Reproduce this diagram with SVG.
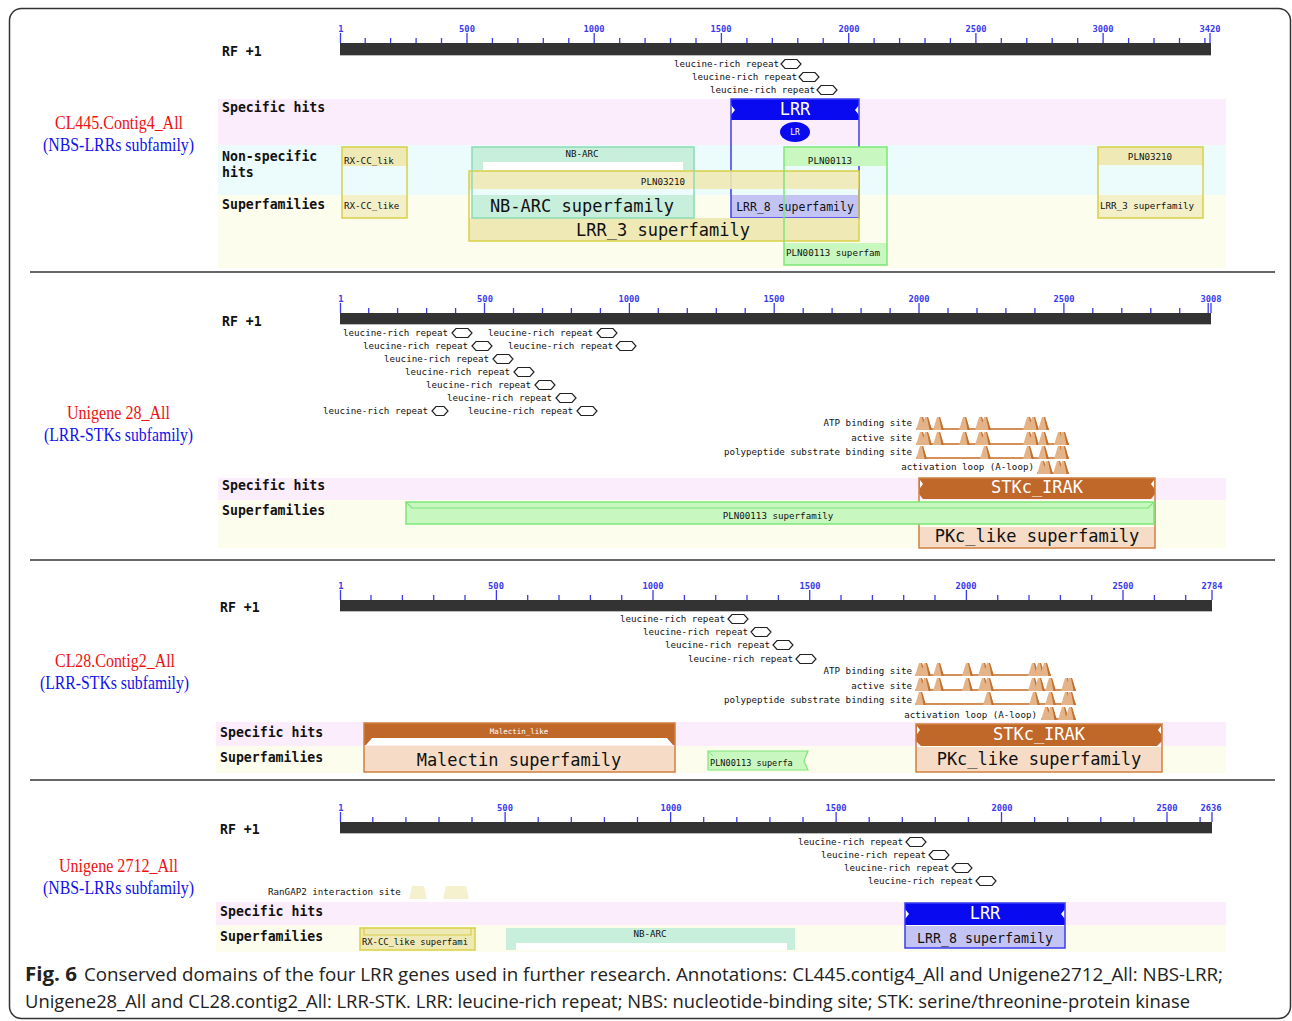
<svg xmlns="http://www.w3.org/2000/svg" width="1292" height="1021" viewBox="0 0 1292 1021">
<style>
.m{font-family:"DejaVu Sans Mono","Liberation Mono",monospace}
.sm{font-family:"DejaVu Sans Mono","Liberation Mono",monospace;font-size:9.2px;fill:#111}
.row{font-family:"DejaVu Sans Mono","Liberation Mono",monospace;font-weight:bold;font-size:13.2px;fill:#111}
.tk{stroke:#3a3af0;stroke-width:1.3;fill:none}
.tl{font-family:"DejaVu Sans Mono","Liberation Mono",monospace;font-size:8.8px;font-weight:bold;fill:#3a3af0;text-anchor:middle}
.bar{fill:#333}
.bl{stroke:#bbb;stroke-width:1}
.big{font-family:"DejaVu Sans Mono","Liberation Mono",monospace;font-size:17px;fill:#111;text-anchor:middle}
.c{text-anchor:middle}
.e{text-anchor:end}
.red{font-family:"Liberation Serif",serif;font-size:18px;fill:#ee1111}
.blu{font-family:"Liberation Serif",serif;font-size:18px;fill:#1111ee}
.pink{fill:#fbedfb}.cyan{fill:#ecfbfb}.yel{fill:#fdfdee}
.yb{fill:none;stroke:#d8d048;stroke-width:1.5}.yf{fill:#efe9b5}
.gb{fill:none;stroke:#8cdcb4;stroke-width:1.5}.gf{fill:#c8eedc}
.lb{fill:none;stroke:#7ee67a;stroke-width:1.5}.lf{fill:#c8f8c0}
.bb{fill:none;stroke:#3c3cf0;stroke-width:1.5}.bf{fill:#0a0af0}.bsf{fill:#c4c4f4}
.ob{fill:none;stroke:#d08040;stroke-width:1.5}.of{fill:#c0672a}.osf{fill:#f6dcc6}
.base{stroke:#d49058;stroke-width:2}
.cap{font-family:"Open Sans","Noto Sans",sans-serif;font-size:19px;fill:#222}
.sep{stroke:#333;stroke-width:1.5}
</style>
<defs>
<path id="hx" d="M0,0 L4,-4.5 H16 L20,0 L16,4.5 H4 Z" fill="#fff" stroke="#222" stroke-width="1.2"/>
<g id="pk"><path d="M0,0 L4,-13 L7,-13 L11,0 Z" fill="#e4b488"/><path d="M6,-13 L7,-13 L11,0 L8.5,0 Z" fill="#c2702e"/></g>
</defs>
<rect x="9.5" y="8.5" width="1281" height="1010" rx="12" fill="#fff" stroke="#333" stroke-width="1.5"/>
<line class="sep" x1="30" y1="272" x2="1275" y2="272"/>
<line class="sep" x1="30" y1="560" x2="1275" y2="560"/>
<line class="sep" x1="30" y1="780" x2="1275" y2="780"/>

<!-- ===== Panel 1 ===== -->
<g id="panel1">
<text class="red" x="55" y="129" textLength="128" lengthAdjust="spacingAndGlyphs">CL445.Contig4_All</text>
<text class="blu" x="43" y="151" textLength="151" lengthAdjust="spacingAndGlyphs">(NBS-LRRs subfamily)</text>
<rect class="pink" x="218" y="99" width="1008" height="46"/>
<rect class="cyan" x="218" y="145" width="1008" height="50"/>
<rect class="yel" x="218" y="195" width="1008" height="73"/>
<text class="row" x="222" y="56">RF +1</text>
<text class="row" x="222" y="112">Specific hits</text>
<text class="row" x="222" y="161">Non-specific</text>
<text class="row" x="222" y="177">hits</text>
<text class="row" x="222" y="209">Superfamilies</text>
<g id="ruler1">
<rect class="bar" x="340" y="43" width="871" height="12"/>
<line class="bl" x1="340" y1="55.5" x2="1211" y2="55.5"/>
<path class="tk" d="M365.2 38v5M390.6 38v5M416.1 38v5M441.5 38v5M492.4 38v5M517.9 38v5M543.3 38v5M568.8 38v5M619.7 38v5M645.1 38v5M670.5 38v5M696 38v5M746.9 38v5M772.3 38v5M797.8 38v5M823.2 38v5M874.1 38v5M899.6 38v5M925 38v5M950.4 38v5M1001.3 38v5M1026.8 38v5M1052.2 38v5M1077.7 38v5M1128.6 38v5M1154 38v5M1179.5 38v5M1204.9 38v5M340.5 33v10M467 33v10M594.2 33v10M721.4 33v10M848.7 33v10M975.9 33v10M1103.1 33v10M1210 33v10"/>
<text class="tl" x="341" y="32">1</text><text class="tl" x="467" y="32">500</text><text class="tl" x="594" y="32">1000</text><text class="tl" x="721" y="32">1500</text><text class="tl" x="849" y="32">2000</text><text class="tl" x="976" y="32">2500</text><text class="tl" x="1103" y="32">3000</text><text class="tl" x="1210" y="32">3420</text>
</g>
<g id="lrr-repeats1">
<text class="sm e" x="779" y="67">leucine-rich repeat</text><use href="#hx" x="781" y="64"/>
<text class="sm e" x="797" y="80">leucine-rich repeat</text><use href="#hx" x="799" y="77"/>
<text class="sm e" x="815" y="93">leucine-rich repeat</text><use href="#hx" x="817" y="90"/>
</g>
<g id="rxcc1">
<rect class="yf" x="342" y="147" width="65" height="19"/>
<rect fill="#f3efc8" x="342" y="195" width="65" height="23"/>
<rect class="yb" x="342" y="147" width="65" height="71"/>
<text class="sm" x="344" y="164">RX-CC_lik</text>
<text class="sm" x="344" y="209">RX-CC_like</text>
</g>
<g id="lrr1">
<rect class="bf" x="731" y="99" width="128" height="21"/>
<path d="M731,105 l4,5 l-4,5 Z M859,105 l-4,5 l4,5 Z" fill="#fff"/>
<rect class="bsf" x="731" y="195" width="128" height="23"/>
<rect class="bb" x="731" y="99" width="128" height="119"/>
<text class="c m" x="795" y="115" font-size="17" fill="#fff">LRR</text>
<ellipse cx="795" cy="132" rx="15" ry="10" fill="#0a0af0"/>
<text class="c m" x="795" y="135" font-size="8" fill="#fff">LR</text>
<text class="c m" x="795" y="211" font-size="11.5" fill="#111">LRR_8 superfamily</text>
</g>
<g id="pln03210a">
<rect class="yf" x="469" y="171" width="390" height="18" opacity="0.9"/>
<rect class="yf" x="469" y="218" width="390" height="23"/>
<rect class="yb" x="469" y="171" width="390" height="70"/>
<text class="sm c" x="663" y="185">PLN03210</text>
<text class="big" x="663" y="236">LRR_3 superfamily</text>
</g>
<g id="nbarc1">
<rect class="gf" x="472" y="147" width="222" height="23"/>
<rect fill="#fff" x="483" y="162" width="200" height="8"/>
<rect class="gf" x="472" y="195" width="222" height="23"/>
<rect class="gb" x="472" y="147" width="222" height="71"/>
<text class="sm c" x="582" y="157">NB-ARC</text>
<text class="big" x="582" y="212">NB-ARC superfamily</text>
</g>
<g id="pln00113a">
<rect class="lf" x="784" y="147" width="103" height="19"/>
<rect class="lf" x="784" y="243" width="103" height="22"/>
<rect class="lb" x="784" y="147" width="103" height="118"/>
<text class="sm c" x="830" y="164">PLN00113</text>
<text class="sm" x="786" y="256">PLN00113 superfam</text>
</g>
<g id="pln03210b">
<rect class="yf" x="1098" y="147" width="105" height="18"/>
<rect fill="#f3efc8" x="1098" y="195" width="105" height="23"/>
<rect class="yb" x="1098" y="147" width="105" height="71"/>
<text class="sm c" x="1150" y="160">PLN03210</text>
<text class="sm" x="1100" y="209">LRR_3 superfamily</text>
</g>
</g>

<!-- ===== Panel 2 ===== -->
<g id="panel2">
<text class="red" x="67" y="419" textLength="103" lengthAdjust="spacingAndGlyphs">Unigene 28_All</text>
<text class="blu" x="44" y="441" textLength="149" lengthAdjust="spacingAndGlyphs">(LRR-STKs subfamily)</text>
<rect class="pink" x="218" y="478" width="1008" height="22"/>
<rect class="yel" x="218" y="500" width="1008" height="48"/>
<text class="row" x="222" y="326">RF +1</text>
<text class="row" x="222" y="490">Specific hits</text>
<text class="row" x="222" y="515">Superfamilies</text>
<g id="ruler2">
<rect class="bar" x="340" y="313" width="871" height="11"/>
<line class="bl" x1="340" y1="324.5" x2="1211" y2="324.5"/>
<path class="tk" d="M368.7 308v5M397.6 308v5M426.6 308v5M455.6 308v5M513.5 308v5M542.5 308v5M571.4 308v5M600.4 308v5M658.3 308v5M687.3 308v5M716.3 308v5M745.2 308v5M803.2 308v5M832.1 308v5M861.1 308v5M890.1 308v5M948 308v5M977 308v5M1005.9 308v5M1034.9 308v5M1092.8 308v5M1121.8 308v5M1150.8 308v5M1179.7 308v5M1208.2 303v10M340.5 303v10M484.5 303v10M629.4 303v10M774.2 303v10M919 303v10M1063.9 303v10M1211 303v10"/>
<text class="tl" x="341" y="302">1</text><text class="tl" x="485" y="302">500</text><text class="tl" x="629" y="302">1000</text><text class="tl" x="774" y="302">1500</text><text class="tl" x="919" y="302">2000</text><text class="tl" x="1064" y="302">2500</text><text class="tl" x="1211" y="302">3008</text>
</g>
<g id="lrr-repeats2">
<text class="sm" x="343" y="336">leucine-rich repeat</text><use href="#hx" x="452" y="333"/>
<text class="sm" x="488" y="336">leucine-rich repeat</text><use href="#hx" x="597" y="333"/>
<text class="sm" x="363" y="349">leucine-rich repeat</text><use href="#hx" x="472" y="346"/>
<text class="sm" x="508" y="349">leucine-rich repeat</text><use href="#hx" x="616" y="346"/>
<text class="sm" x="384" y="362">leucine-rich repeat</text><use href="#hx" x="493" y="359"/>
<text class="sm" x="405" y="375">leucine-rich repeat</text><use href="#hx" x="514" y="372"/>
<text class="sm" x="426" y="388">leucine-rich repeat</text><use href="#hx" x="535" y="385"/>
<text class="sm" x="447" y="401">leucine-rich repeat</text><use href="#hx" x="556" y="398"/>
<text class="sm" x="323" y="414">leucine-rich repeat</text><path d="M0,0 L4,-4.5 H12 L16,0 L12,4.5 H4 Z" transform="translate(432,411)" fill="#fff" stroke="#222" stroke-width="1.2"/>
<text class="sm" x="468" y="414">leucine-rich repeat</text><use href="#hx" x="577" y="411"/>
</g>
<g id="sites2">
<text class="sm e" x="912" y="426">ATP binding site</text>
<line class="base" x1="916" y1="429" x2="1049" y2="429"/>
<use href="#pk" x="916" y="430"/><use href="#pk" x="921" y="430"/><use href="#pk" x="933" y="430"/><use href="#pk" x="959" y="430"/><use href="#pk" x="975" y="430"/><use href="#pk" x="980" y="430"/><use href="#pk" x="1023" y="430"/><use href="#pk" x="1028" y="430"/><use href="#pk" x="1038" y="430"/>
<text class="sm e" x="912" y="441">active site</text>
<line class="base" x1="916" y1="444" x2="1069" y2="444"/>
<use href="#pk" x="916" y="445"/><use href="#pk" x="921" y="445"/><use href="#pk" x="933" y="445"/><use href="#pk" x="959" y="445"/><use href="#pk" x="975" y="445"/><use href="#pk" x="980" y="445"/><use href="#pk" x="1023" y="445"/><use href="#pk" x="1028" y="445"/><use href="#pk" x="1038" y="445"/><use href="#pk" x="1054" y="445"/><use href="#pk" x="1058" y="445"/>
<text class="sm e" x="912" y="455">polypeptide substrate binding site</text>
<line class="base" x1="916" y1="458" x2="1069" y2="458"/>
<use href="#pk" x="916" y="459"/><use href="#pk" x="980" y="459"/><use href="#pk" x="1023" y="459"/><use href="#pk" x="1038" y="459"/><use href="#pk" x="1054" y="459"/><use href="#pk" x="1058" y="459"/>
<text class="sm e" x="1034" y="470">activation loop (A-loop)</text>
<line class="base" x1="1037" y1="473" x2="1069" y2="473"/>
<use href="#pk" x="1037" y="474"/><use href="#pk" x="1042" y="474"/><use href="#pk" x="1053" y="474"/><use href="#pk" x="1058" y="474"/>
</g>
<g id="stkc2">
<path class="of" d="M919,478 H1155 V494 L1151,499 H923 L919,494 Z"/>
<path d="M920,480 l3,4 l-3,4 Z M1154,480 l-3,4 l3,4 Z" fill="#fff"/>
<rect class="osf" x="919" y="527" width="236" height="21"/>
<rect class="ob" x="919" y="478" width="236" height="70"/>
<text class="big" x="1037" y="493" fill="#fff" style="fill:#fff">STKc_IRAK</text>
<text class="big" x="1037" y="542">PKc_like superfamily</text>
</g>
<g id="pln00113b">
<rect class="lf" x="406" y="502" width="748" height="22"/>
<path d="M406,502 l6,6 H1148 l6,-6" fill="none" stroke="#7ee67a" stroke-width="1.2"/>
<rect class="lb" x="406" y="502" width="748" height="22"/>
<text class="sm c" x="778" y="519">PLN00113 superfamily</text>
</g>
</g>

<!-- ===== Panel 3 ===== -->
<g id="panel3">
<text class="red" x="55" y="667" textLength="120" lengthAdjust="spacingAndGlyphs">CL28.Contig2_All</text>
<text class="blu" x="40" y="689" textLength="149" lengthAdjust="spacingAndGlyphs">(LRR-STKs subfamily)</text>
<rect class="pink" x="216" y="722" width="1010" height="24"/>
<rect class="yel" x="216" y="746" width="1010" height="27"/>
<text class="row" x="220" y="612">RF +1</text>
<text class="row" x="220" y="737">Specific hits</text>
<text class="row" x="220" y="762">Superfamilies</text>
<g id="ruler3">
<rect class="bar" x="340" y="600" width="872" height="11"/>
<line class="bl" x1="340" y1="611.5" x2="1212" y2="611.5"/>
<path class="tk" d="M371 595v5M402.4 595v5M433.7 595v5M465 595v5M527.7 595v5M559 595v5M590.4 595v5M621.7 595v5M684.4 595v5M715.7 595v5M747 595v5M778.4 595v5M841 595v5M872.4 595v5M903.7 595v5M935 595v5M997.7 595v5M1029 595v5M1060.4 595v5M1091.7 595v5M1154.4 595v5M1185.7 595v5M340.5 590v10M496.4 590v10M653 590v10M809.7 590v10M966.4 590v10M1123 590v10M1212 590v10"/>
<text class="tl" x="341" y="589">1</text><text class="tl" x="496" y="589">500</text><text class="tl" x="653" y="589">1000</text><text class="tl" x="810" y="589">1500</text><text class="tl" x="966" y="589">2000</text><text class="tl" x="1123" y="589">2500</text><text class="tl" x="1212" y="589">2784</text>
</g>
<g id="lrr-repeats3">
<text class="sm e" x="725" y="622">leucine-rich repeat</text><use href="#hx" x="728" y="619"/>
<text class="sm e" x="748" y="635">leucine-rich repeat</text><use href="#hx" x="751" y="632"/>
<text class="sm e" x="770" y="648">leucine-rich repeat</text><use href="#hx" x="773" y="645"/>
<text class="sm e" x="793" y="662">leucine-rich repeat</text><use href="#hx" x="796" y="659"/>
</g>
<g id="sites3">
<text class="sm e" x="912" y="674">ATP binding site</text>
<line class="base" x1="915" y1="675" x2="1051" y2="675"/>
<use href="#pk" x="915" y="676"/><use href="#pk" x="920" y="676"/><use href="#pk" x="933" y="676"/><use href="#pk" x="962" y="676"/><use href="#pk" x="978" y="676"/><use href="#pk" x="983" y="676"/><use href="#pk" x="1028" y="676"/><use href="#pk" x="1034" y="676"/><use href="#pk" x="1040" y="676"/>
<text class="sm e" x="912" y="689">active site</text>
<line class="base" x1="915" y1="690" x2="1076" y2="690"/>
<use href="#pk" x="915" y="691"/><use href="#pk" x="920" y="691"/><use href="#pk" x="933" y="691"/><use href="#pk" x="962" y="691"/><use href="#pk" x="978" y="691"/><use href="#pk" x="983" y="691"/><use href="#pk" x="1028" y="691"/><use href="#pk" x="1034" y="691"/><use href="#pk" x="1045" y="691"/><use href="#pk" x="1061" y="691"/><use href="#pk" x="1065" y="691"/>
<text class="sm e" x="912" y="703">polypeptide substrate binding site</text>
<line class="base" x1="915" y1="704" x2="1076" y2="704"/>
<use href="#pk" x="915" y="705"/><use href="#pk" x="983" y="705"/><use href="#pk" x="1029" y="705"/><use href="#pk" x="1045" y="705"/><use href="#pk" x="1061" y="705"/><use href="#pk" x="1065" y="705"/>
<text class="sm e" x="1037" y="718">activation loop (A-loop)</text>
<line class="base" x1="1041" y1="719" x2="1076" y2="719"/>
<use href="#pk" x="1041" y="720"/><use href="#pk" x="1046" y="720"/><use href="#pk" x="1058" y="720"/><use href="#pk" x="1065" y="720"/>
</g>
<g id="malectin3">
<rect class="of" x="364" y="723" width="311" height="15"/>
<path d="M372,738 H667 L673,745 H366 Z" fill="#fff"/>
<path d="M364,738 H372 L366,745 H364 Z M675,738 H667 L673,745 H675 Z" class="of"/>
<rect class="osf" x="364" y="746" width="311" height="26"/>
<rect class="ob" x="364" y="723" width="311" height="49"/>
<text class="sm c" x="519" y="734" font-size="7.5" style="fill:#fff;font-size:7.5px">Malectin_like</text>
<text class="big" x="519" y="766">Malectin superfamily</text>
</g>
<g id="stkc3">
<path class="of" d="M916,724 H1162 V741 L1157,746 H921 L916,741 Z"/>
<path d="M917,726 l3,4 l-3,4 Z M1161,726 l-3,4 l3,4 Z" fill="#fff"/>
<rect class="osf" x="916" y="747" width="246" height="25"/>
<rect class="ob" x="916" y="724" width="246" height="48"/>
<text class="big" x="1039" y="740" style="fill:#fff">STKc_IRAK</text>
<text class="big" x="1039" y="765">PKc_like superfamily</text>
</g>
<g id="pln00113c">
<path class="lf" d="M708,751 H808 L804,761 L808,770 H708 Z" stroke="#7ee67a" stroke-width="1.2"/>
<path d="M708,751 l5,5" stroke="#7ee67a" stroke-width="1"/>
<text class="sm" x="710" y="766" style="font-size:8.6px">PLN00113 superfa</text>
</g>
</g>

<!-- ===== Panel 4 ===== -->
<g id="panel4">
<text class="red" x="59" y="872" textLength="119" lengthAdjust="spacingAndGlyphs">Unigene 2712_All</text>
<text class="blu" x="43" y="894" textLength="151" lengthAdjust="spacingAndGlyphs">(NBS-LRRs subfamily)</text>
<rect class="pink" x="216" y="902" width="1010" height="23"/>
<rect class="yel" x="216" y="925" width="1010" height="27"/>
<text class="row" x="220" y="834">RF +1</text>
<text class="row" x="220" y="916">Specific hits</text>
<text class="row" x="220" y="941">Superfamilies</text>
<g id="ruler4">
<rect class="bar" x="340" y="822" width="872" height="11"/>
<line class="bl" x1="340" y1="833.5" x2="1212" y2="833.5"/>
<path class="tk" d="M372.8 817v5M405.9 817v5M439 817v5M472 817v5M538.2 817v5M571.3 817v5M604.4 817v5M637.5 817v5M703.7 817v5M736.8 817v5M769.9 817v5M803 817v5M869.2 817v5M902.3 817v5M935.3 817v5M968.4 817v5M1034.6 817v5M1067.7 817v5M1100.8 817v5M1133.9 817v5M1200.1 817v5M340.5 812v10M505.1 812v10M670.6 812v10M836.1 812v10M1001.5 812v10M1167 812v10M1212 812v10"/>
<text class="tl" x="341" y="811">1</text><text class="tl" x="505" y="811">500</text><text class="tl" x="671" y="811">1000</text><text class="tl" x="836" y="811">1500</text><text class="tl" x="1002" y="811">2000</text><text class="tl" x="1167" y="811">2500</text><text class="tl" x="1211" y="811">2636</text>
</g>
<g id="lrr-repeats4">
<text class="sm e" x="903" y="845">leucine-rich repeat</text><use href="#hx" x="906" y="842"/>
<text class="sm e" x="926" y="858">leucine-rich repeat</text><use href="#hx" x="929" y="855"/>
<text class="sm e" x="949" y="871">leucine-rich repeat</text><use href="#hx" x="952" y="868"/>
<text class="sm e" x="973" y="884">leucine-rich repeat</text><use href="#hx" x="976" y="881"/>
</g>
<g id="rangap4">
<text class="sm" x="268" y="895">RanGAP2 interaction site</text>
<path d="M409,899 L412,886 H424 L427,899 H443 L446,886 H466 L469,899 Z" fill="#f5f1cf"/>
</g>
<g id="lrr4">
<rect class="bf" x="905" y="903" width="160" height="22"/>
<path d="M905,909 l4,5 l-4,5 Z M1065,909 l-4,5 l4,5 Z" fill="#fff"/>
<rect class="bsf" x="905" y="926" width="160" height="22"/>
<rect class="bb" x="905" y="903" width="160" height="45"/>
<text class="big" x="985" y="919" style="fill:#fff">LRR</text>
<text class="c m" x="985" y="943" font-size="13.3" fill="#111">LRR_8 superfamily</text>
</g>
<g id="rxcc4">
<rect class="yf" x="360" y="928" width="115" height="22"/>
<path d="M364,928 V935 H471 V928" fill="none" stroke="#d8d048" stroke-width="1.2"/>
<rect class="yb" x="360" y="928" width="115" height="22"/>
<text class="sm" x="362" y="945" style="font-size:8.8px">RX-CC_like superfami</text>
</g>
<g id="nbarc4">
<rect class="gf" x="506" y="928" width="289" height="22"/>
<rect fill="#fff" x="516" y="943" width="271" height="7"/>
<text class="sm c" x="650" y="937">NB-ARC</text>
</g>
</g>

<!-- caption -->
<g id="caption">
<text class="cap" x="25" y="981" font-weight="bold" style="font-weight:bold" textLength="52" lengthAdjust="spacingAndGlyphs">Fig. 6</text>
<text class="cap" x="84" y="981" textLength="1139" lengthAdjust="spacingAndGlyphs">Conserved domains of the four LRR genes used in further research. Annotations: CL445.contig4_All and Unigene2712_All: NBS-LRR;</text>
<text class="cap" x="25" y="1008" textLength="1165" lengthAdjust="spacingAndGlyphs">Unigene28_All and CL28.contig2_All: LRR-STK. LRR: leucine-rich repeat; NBS: nucleotide-binding site; STK: serine/threonine-protein kinase</text>
</g>
</svg>
